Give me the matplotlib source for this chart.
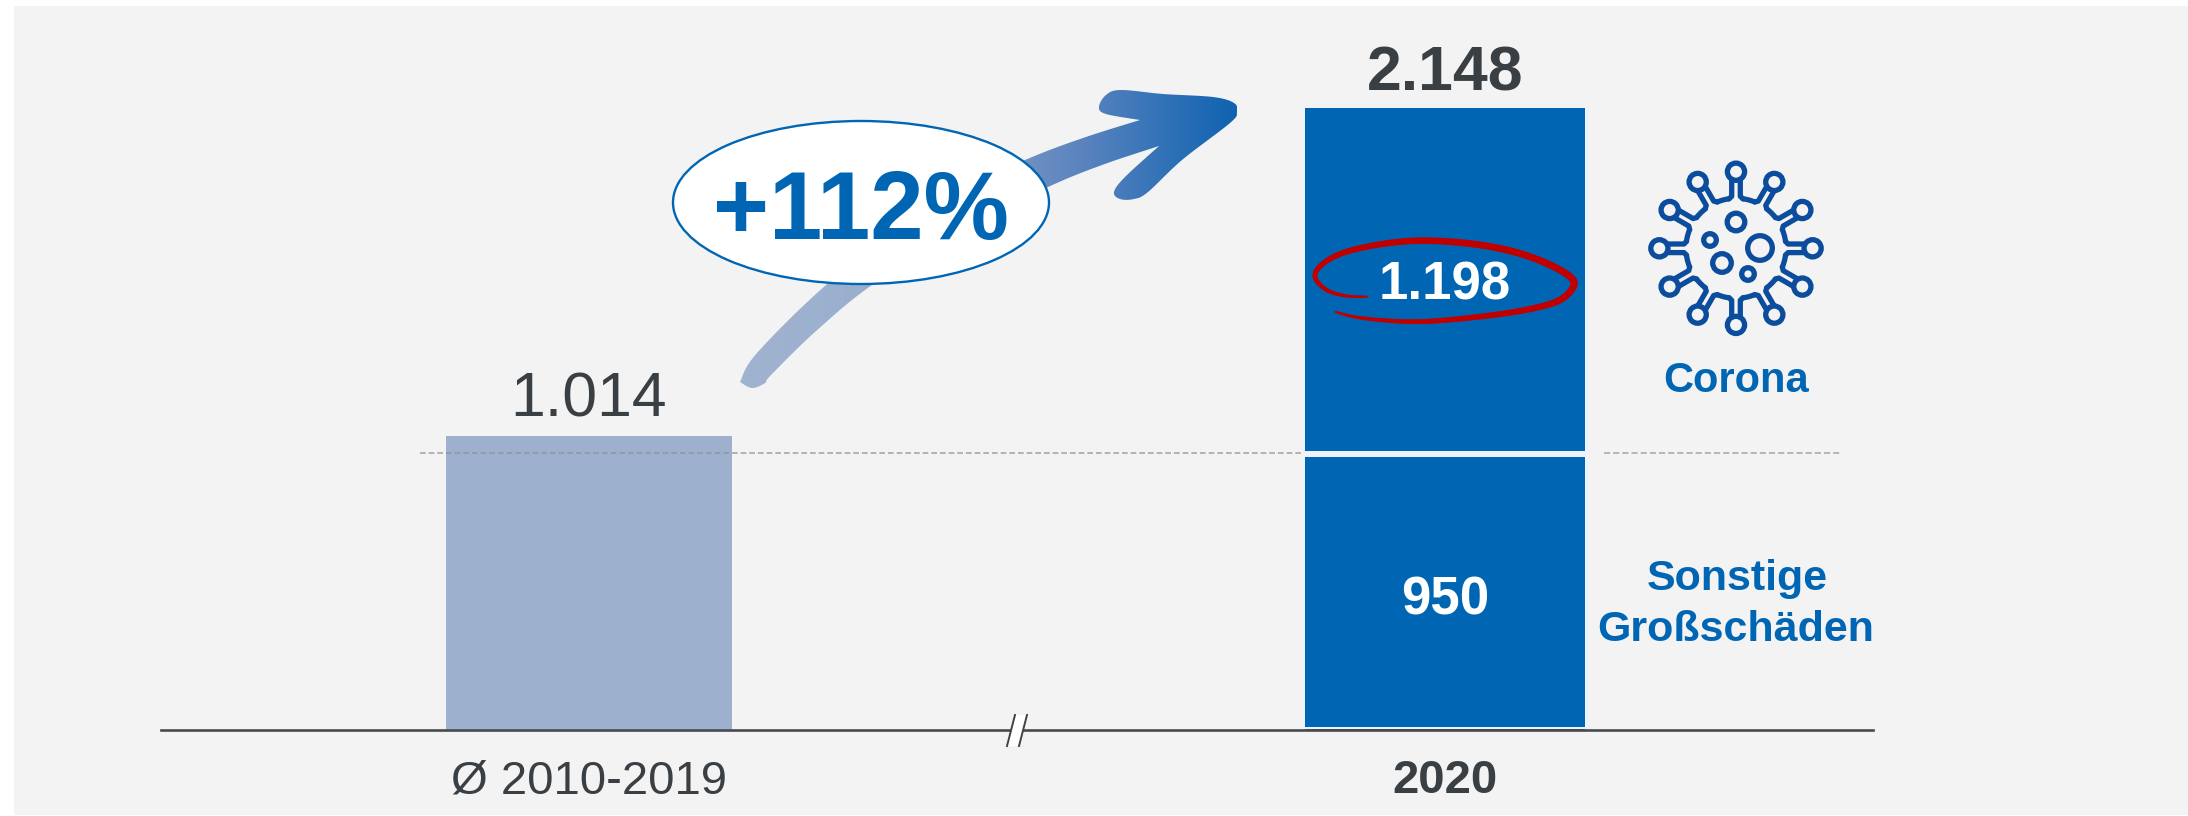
import numpy as np
import matplotlib
matplotlib.use("Agg")
import matplotlib.pyplot as plt
from matplotlib.patches import Ellipse, Rectangle, Circle, Polygon
from matplotlib.collections import LineCollection
from matplotlib.colors import LinearSegmentedColormap

# ---- data ----
categories = ["Ø 2010-2019", "2020"]
average_value = [1014]
other_losses = [950]
corona_losses = [1198]
average_label = "1.014"
total_label = "2.148"
corona_label = "1.198"
other_label = "950"
change_label = "+112%"
corona_name = "Corona"
other_name = "Sonstige\nGroßschäden"

W, H = 2188, 816
BLUE = "#0066B3"
LIGHT = "#9DB1CF"
DARK = "#3A3F44"
ICON = "#0B4C9C"
RED = "#C00000"
HALO = "#F0F2F9"
plt.rcParams["font.family"] = ["Liberation Sans", "DejaVu Sans"]

fig = plt.figure(figsize=(W / 100, H / 100), dpi=100, facecolor="white")

# pixel overlay for the hand-drawn decorations
deco = fig.add_axes([0, 0, 1, 1], zorder=0)
deco.set_xlim(0, W)
deco.set_ylim(H, 0)
deco.axis("off")
deco.add_patch(Rectangle((14, 6), W - 14, H - 6 - 1, fc="#F3F3F3", ec="none"))
deco.add_patch(Rectangle((1302, 105), 288, 625, fc=HALO, ec="none"))
deco.plot([1604, 1842], [453, 453], color="#A6A6A6", lw=1.1, ls=(0, (4, 2)), zorder=1)

# chart axes
x0, x1, y0, ytop = 161, 1873, 730, 108
ax = fig.add_axes([x0 / W, 1 - y0 / H, (x1 - x0) / W, (y0 - ytop) / H], zorder=1)
ax.patch.set_alpha(0)
pos_a, pos_b = 0.0, 1.0
span = 856.0
ax.set_xlim(-(589 - x0) / span, (x1 - 589) / span)
ax.set_ylim(0, other_losses[0] + corona_losses[0])
ax.bar([pos_a], average_value, width=286 / span, color=LIGHT, zorder=2)
ax.bar([pos_b], other_losses, width=280 / span, color=BLUE, zorder=2)
ax.bar([pos_b], corona_losses, bottom=other_losses, width=280 / span, color=BLUE, zorder=2)
for s in ["top", "left", "right"]:
    ax.spines[s].set_visible(False)
ax.spines["bottom"].set_color("#474B4F")
ax.spines["bottom"].set_linewidth(1.9)
ax.set_yticks([])
ax.set_xticks([pos_a, pos_b], categories)
ax.tick_params(axis="x", length=0, pad=21)
labs = ax.get_xticklabels()
labs[0].set(fontsize=34, color=DARK)
labs[1].set(fontsize=34, color=DARK, fontweight="bold")

ax.annotate(average_label, (pos_a, average_value[0]), xytext=(0, 20), textcoords="offset pixels",
            ha="center", va="baseline", fontsize=45, color=DARK)
ax.annotate(total_label, (pos_b, other_losses[0] + corona_losses[0]), xytext=(0, 18),
            textcoords="offset pixels", annotation_clip=False,
            ha="center", va="baseline", fontsize=45, fontweight="bold", color=DARK)
ax.annotate(other_label, (pos_b, other_losses[0] / 2), xytext=(0, -22), textcoords="offset pixels",
            ha="center", va="baseline", fontsize=38, fontweight="bold", color="white", zorder=5)


def smooth(pts, n=16):
    p = np.asarray(pts, float)
    p = np.vstack([p[0], p, p[-1]])
    out = []
    t = np.linspace(0, 1, n, endpoint=False)[:, None]
    for i in range(1, len(p) - 2):
        a, b, c, d = p[i - 1], p[i], p[i + 1], p[i + 2]
        out.append(0.5 * (2 * b + (c - a) * t + (2 * a - 5 * b + 4 * c - d) * t ** 2
                          + (3 * b - a - 3 * c + d) * t ** 3))
    out.append(p[-1:])
    return np.vstack(out)


top = fig.add_axes([0, 0, 1, 1], zorder=2)
top.patch.set_alpha(0)
top.axis("off")

# gradient arrow, built from three smooth runs with sharp notches between them
upper = [(740, 382), (757, 353), (826, 285), (925, 205), (1025, 160), (1083, 138), (1140, 120)]
head = [(1140, 120), (1106, 114), (1099, 107), (1106, 95), (1121, 90), (1163, 94), (1213, 97),
        (1234, 103), (1237, 112), (1230, 123), (1182, 160), (1148, 192), (1134, 199), (1120, 199),
        (1114, 192), (1125, 177), (1159, 146)]
lower = [(1159, 146), (1102, 165), (1048, 187), (960, 230), (872, 285), (815, 332), (771, 375),
         (765, 383), (752, 388), (740, 382)]
verts = np.vstack([smooth(upper), smooth(head), smooth(lower)])
patch = Polygon(verts, closed=True, fc="none", ec="none")
top.add_patch(patch)
cmap = LinearSegmentedColormap.from_list("arr", ["#A0B3D0", "#98ADCE", "#5F86BF", "#0F63B1"])
grad = np.linspace(0, 1, 256)[None, :]
im = top.imshow(grad, extent=(740, 1237, 400, 85), cmap=cmap, aspect="auto", zorder=2)
im.set_clip_path(patch)
top.set_xlim(0, W)
top.set_ylim(H, 0)

# dashed reference line over the first bar, up to the second bar
top.plot([420, 1303], [453, 453], color="#8E8E8E", lw=1.2, ls=(0, (3.4, 1.8)), alpha=0.75, zorder=1)

# gaps of the second bar
top.add_patch(Rectangle((1305, 451), 280, 6, fc=HALO, ec="none", zorder=1))
top.add_patch(Rectangle((1305, 727), 280, 1.6, fc=HALO, ec="none", zorder=1))

# ellipse
top.add_patch(Ellipse((861, 202.5), 376, 163, fc="white", ec=BLUE, lw=1.7, zorder=3))
top.text(861, 239, change_label, ha="center", va="baseline", fontsize=69, fontweight="bold",
         color=BLUE, zorder=4)

# red scribble (tapered)
raw = [(262, 230), (200, 228), (140, 210), (105, 170), (130, 130), (200, 95), (320, 70), (440, 62),
       (580, 72), (700, 95), (800, 130), (870, 170), (880, 200), (840, 240), (760, 265), (640, 285),
       (500, 300), (400, 305), (300, 300), (220, 290), (165, 275)]
scr = smooth([(1280 + a / 3, 220 + b / 3) for a, b in raw], n=10)
segs = np.stack([scr[:-1], scr[1:]], axis=1)
u = np.linspace(0, 1, len(segs))
lw = 1.2 + 3.8 * np.sin(np.pi * u) ** 0.7
top.add_collection(LineCollection(segs, linewidths=lw, colors=RED, capstyle="round", zorder=5))
top.text(1445, 300, corona_label, ha="center", va="baseline", fontsize=38, fontweight="bold",
         color="white", zorder=6)

# axis break
top.add_patch(Polygon([(1015, 715), (1027, 715), (1019, 746), (1007, 746)], closed=True, fc="white",
                      ec="none", zorder=4))
top.plot([1015, 1007], [715, 746], color="#3F4346", lw=1.4, zorder=5)
top.plot([1027, 1019], [715, 746], color="#3F4346", lw=1.4, zorder=5)

# side labels
top.text(1736, 392, corona_name, ha="center", va="baseline", fontsize=30, fontweight="bold", color=BLUE)
top.text(1737, 590, other_name.split("\n")[0], ha="center", va="baseline", fontsize=31, fontweight="bold", color=BLUE)
top.text(1736, 641, other_name.split("\n")[1], ha="center", va="baseline", fontsize=31, fontweight="bold", color=BLUE)

# virus icon
cx, cy = 1736, 248.3
ilw = 3.8
R_body, R_ring, r_ring, off = 50, 76.6, 8.6, 4.3
c = np.array([cx, cy])
for k in range(12):
    a = np.deg2rad(30 * k)
    d = np.array([np.cos(a), np.sin(a)])
    n = np.array([-d[1], d[0]])
    top.add_patch(Circle(c + d * R_ring, r_ring, fc="none", ec=ICON, lw=ilw, zorder=3))
    for s in (-1, 1):
        pts = [c + d * (R_ring - r_ring) + n * s * off, c + d * (R_body + 2) + n * s * off]
        t = a + s * np.deg2rad(8)
        pts.append(c + R_body * np.array([np.cos(t), np.sin(t)]))
        pts = np.array(pts)
        top.plot(pts[:, 0], pts[:, 1], color=ICON, lw=ilw, solid_capstyle="round",
                 solid_joinstyle="round", zorder=3)
    th = np.linspace(a + np.deg2rad(8), a + np.deg2rad(22), 10)
    top.plot(cx + R_body * np.cos(th), cy + R_body * np.sin(th), color=ICON, lw=ilw,
             solid_capstyle="round", zorder=3)
for (ix, iy, r) in [(1736, 222, 8.8), (1760, 248, 12.3), (1710, 240, 6.3), (1722, 263, 9.3), (1748, 274, 6.3)]:
    top.add_patch(Circle((ix, iy), r, fc="none", ec=ICON, lw=ilw, zorder=3))

top.set_xlim(0, W)
top.set_ylim(H, 0)
fig.savefig("out.png", dpi=100)
